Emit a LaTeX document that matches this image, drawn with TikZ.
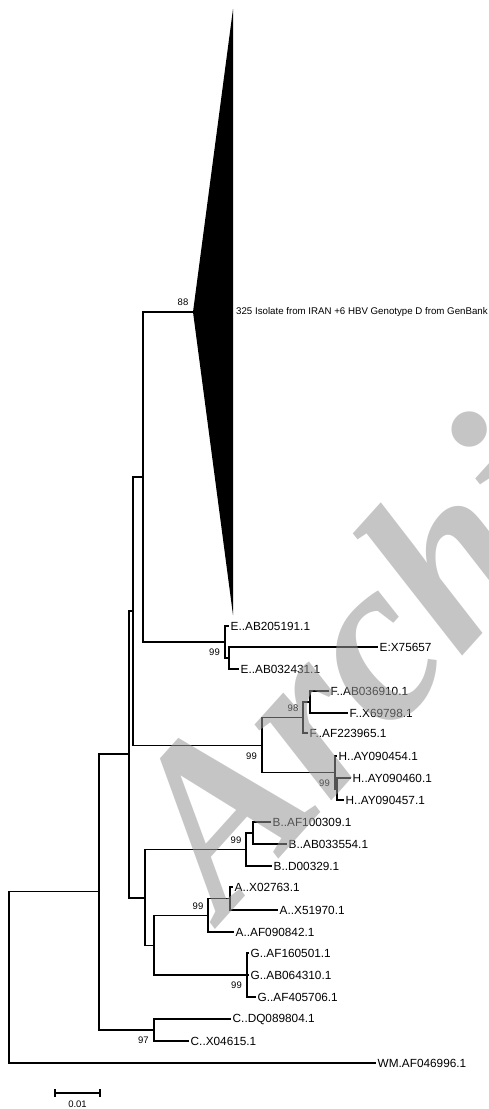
\documentclass[tikz,border=0pt]{standalone}
\usepackage{fontspec}
\setmainfont{Liberation Sans}
\newfontfamily\stampfont{Liberation Serif}
\usetikzlibrary{calc}
\definecolor{stampgray}{RGB}{150,150,150}

\tikzset{
  branch/.style={line width=1.2pt, line cap=rect},
  heavy/.style={line width=1.6pt, line cap=rect},
  leaf/.style={anchor=west, inner sep=2.5pt, font=\fontsize{11.8}{12}\selectfont},
  boot/.style={inner sep=0pt, font=\fontsize{9.5}{10}\selectfont},
  bootup/.style={boot, xshift=-10pt, yshift=9.5pt},
  bootdown/.style={boot, xshift=-10.5pt, yshift=-10.5pt},
}

\begin{document}
\begin{tikzpicture}[x=1pt, y=-1pt]
\useasboundingbox (0,0) rectangle (488,1109);

\coordinate (root) at (9,977.5);
\coordinate (nX) at (99,891.5);
\coordinate (nY) at (129,754);
\coordinate (nZ) at (133,611);
\coordinate (nDE) at (143,477);
\coordinate (dApex) at (193,312);
\coordinate (nE) at (225,642);
\coordinate (nE2) at (229,658);
\coordinate (nFH) at (262,745.5);
\coordinate (nF) at (303,717.5);
\coordinate (nF2) at (310,702);
\coordinate (nH) at (335,772.5);
\coordinate (nH2) at (337,789);
\coordinate (nW) at (145,898);
\coordinate (nB) at (246,849.5);
\coordinate (nB2) at (253,833);
\coordinate (nAG) at (154,945.5);
\coordinate (nA) at (208,915.5);
\coordinate (nA2) at (230,898.5);
\coordinate (nG) at (247,975);
\coordinate (nC) at (154,1030);

\fill (233,9) -- (dApex) -- (233,615) -- cycle;
\node[anchor=west, inner sep=2pt, font=\fontsize{9.7}{10}\selectfont] (dGroup) at (234,312) {325 Isolate from IRAN +6 HBV Genotype D from GenBank};

\node[leaf] (eAB205) at (228,626) {E..AB205191.1};
\node[leaf] (eX75657) at (377,647) {E:X75657};
\node[leaf] (eAB032) at (238,669) {E..AB032431.1};
\node[leaf] (fAB036) at (328,691) {F..AB036910.1};
\node[leaf] (fX697) at (347,713) {F..X69798.1};
\node[leaf] (fAF223) at (307,733) {F..AF223965.1};
\node[leaf] (hAY454) at (336,756) {H..AY090454.1};
\node[leaf] (hAY460) at (350,778) {H..AY090460.1};
\node[leaf] (hAY457) at (343,800) {H..AY090457.1};
\node[leaf] (bAF100) at (270,822) {B..AF100309.1};
\node[leaf] (bAB033) at (286,844) {B..AB033554.1};
\node[leaf] (bD003) at (271,866) {B..D00329.1};
\node[leaf] (aX027) at (232,887) {A..X02763.1};
\node[leaf] (aX519) at (277,910) {A..X51970.1};
\node[leaf] (aAF090) at (233,932) {A..AF090842.1};
\node[leaf] (gAF160) at (248,953) {G..AF160501.1};
\node[leaf] (gAB064) at (248,975) {G..AB064310.1};
\node[leaf] (gAF405) at (255,997) {G..AF405706.1};
\node[leaf] (cDQ089) at (230,1019) {C..DQ089804.1};
\node[leaf] (cX046) at (188,1041) {C..X04615.1};
\node[leaf] (wmAF046) at (375,1063) {WM.AF046996.1};

\foreach \p/\c in {root/nX, root/wmAF046.west, nX/nY, nX/nC, nY/nZ, nY/nW,
  nZ/nDE, nDE/dApex, nDE/nE, nAG/nA, nAG/nG, nW/nAG, nC/cDQ089.west,
  nA2/aX027.west, nA2/aX519.west, nE/eAB205.west}
  \draw[branch] (\p) |- (\c);
\foreach \p/\c in {nZ/nFH, nFH/nF, nFH/nH, nF/nF2, nF/fAF223.west,
  nF2/fAB036.west, nF2/fX697.west, nH/hAY454.west, nH/nH2,
  nH2/hAY460.west, nH2/hAY457.west, nE/nE2, nE2/eX75657.west,
  nE2/eAB032.west, nW/nB, nB/nB2, nB/bD003.west, nB2/bAF100.west,
  nB2/bAB033.west, nA/nA2, nA/aAF090.west, nG/gAF160.west,
  nG/gAB064.west, nG/gAF405.west, nC/cX046.west}
  \draw[heavy] (\p) |- (\c);

\node[bootup] (b88) at (dApex) {88};
\node[bootdown] (bE) at (nE) {99};
\node[bootup] (bF) at (nF) {98};
\node[bootdown] (bFH) at (nFH) {99};
\node[bootdown] (bH) at (nH) {99};
\node[bootup] (bB) at (nB) {99};
\node[bootup] (bA) at (nA) {99};
\node[bootdown] (bG) at (nG) {99};
\node[bootdown] (bC) at (nC) {97};

\coordinate (sL) at (55,1093);
\coordinate (sR) at (100,1093);
\draw[branch, line cap=butt] (sL) -- (sR);
\draw[branch, line cap=butt] ($(sL)+(0,-4)$) -- ($(sL)+(0,4)$);
\draw[branch, line cap=butt] ($(sR)+(0,-4)$) -- ($(sR)+(0,4)$);
\node[boot] (sLabel) at (77.5,1104) {0.01};

\node[anchor=base west, rotate=48, inner sep=0pt, text=stampgray, opacity=0.55,
  font=\stampfont\bfseries\itshape\fontsize{235}{235}\selectfont] (stamp) at (223.3,921.1) {Archi};
\end{tikzpicture}
\end{document}
